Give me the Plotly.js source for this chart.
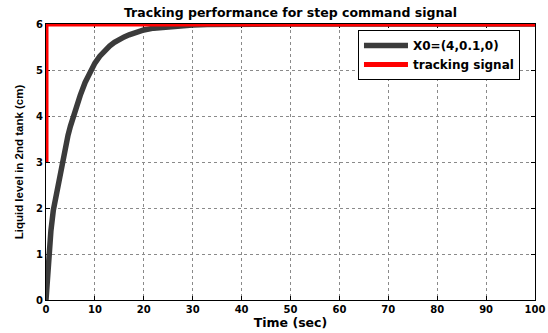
<!DOCTYPE html>
<html>
<head>
<meta charset="utf-8">
<script src="https://cdn.plot.ly/plotly-3.0.1.min.js"></script>
<style>
  html, body { margin: 0; padding: 0; background: #fff; }
  #chart { width: 548px; height: 333px; }
</style>
</head>
<body>
<div id="chart"></div>
<script>
// Liquid level response of the 2nd tank, initial state X0 = (4, 0.1, 0)
const timeSec = [0, 0.5, 1, 1.5, 2, 2.5, 3, 3.5, 4, 4.5, 5, 5.5, 6, 7, 8, 9, 10, 11, 12, 13, 14, 15, 16, 17, 18, 19, 20, 22, 24, 26, 28, 30, 33, 36, 40, 50, 60, 70, 80, 90, 100];
const levelCm = [0, 1.0, 1.5, 1.95, 2.25, 2.55, 2.85, 3.1, 3.35, 3.58, 3.78, 3.96, 4.12, 4.45, 4.73, 4.96, 5.15, 5.3, 5.42, 5.52, 5.6, 5.67, 5.72, 5.765, 5.805, 5.84, 5.87, 5.91, 5.935, 5.955, 5.97, 5.98, 5.99, 5.995, 6.0, 6.0, 6.0, 6.0, 6.0, 6.0, 6.0];

// Step command reference signal
const refTime = [0, 0, 100];
const refLevel = [3, 6, 6];

const seriesNames = ['X0=(4,0.1,0)', 'tracking signal'];
const xTicks = [0, 10, 20, 30, 40, 50, 60, 70, 80, 90, 100];
const yTicks = [0, 1, 2, 3, 4, 5, 6];

const wideFont = { family: 'DejaVu Sans, sans-serif', size: 12.5, color: '#000', weight: 'bold' };
const legendFont = { family: 'DejaVu Sans, sans-serif', size: 12, color: '#000', weight: 'bold' };
const tickFont = { family: 'DejaVu Sans, sans-serif', size: 10, color: '#000', weight: 'bold' };
const yTitleFont = { family: 'Liberation Sans, Arial, sans-serif', size: 11.5, color: '#000', weight: 'bold' };

const traces = [
  {
    x: timeSec, y: levelCm, name: seriesNames[0], type: 'scatter', mode: 'lines',
    line: { color: '#3b3b3b', width: 5.5 }
  },
  {
    x: refTime, y: refLevel, name: seriesNames[1], type: 'scatter', mode: 'lines',
    line: { color: '#ff0000', width: 5 }
  }
];

const axisCommon = {
  showline: true, linecolor: '#000', linewidth: 1, mirror: 'ticks',
  ticks: 'inside', ticklen: 4, tickcolor: '#000',
  showgrid: true, gridcolor: '#8a8a8a', griddash: 'dot', gridwidth: 1,
  zeroline: false, layer: 'below traces', tickfont: tickFont
};

const layout = {
  width: 548, height: 333,
  margin: { l: 46, r: 13, t: 24, b: 33 },
  paper_bgcolor: '#fff', plot_bgcolor: '#fff',
  font: wideFont,
  title: { text: 'Tracking performance for step command signal', font: wideFont, xref: 'paper', x: 0.5, xanchor: 'center', y: 0.963, yanchor: 'middle' },
  xaxis: Object.assign({}, axisCommon, {
    range: [0, 100], tickvals: xTicks, ticktext: xTicks.map(String),
    title: { text: 'Time (sec)', font: wideFont, standoff: 1 }
  }),
  yaxis: Object.assign({}, axisCommon, {
    range: [0, 6], tickvals: yTicks, ticktext: yTicks.map(String),
    title: { text: 'Liquid level in 2nd tank (cm)', font: yTitleFont, standoff: 10 }
  }),
  showlegend: true,
  legend: {
    x: 0.638, y: 0.978, xanchor: 'left', yanchor: 'top',
    bgcolor: '#fff', bordercolor: '#000', borderwidth: 1,
    font: legendFont, tracegroupgap: 0, itemwidth: 44
  }
};

Plotly.newPlot('chart', traces, layout, { staticPlot: true, displayModeBar: false });
</script>
</body>
</html>
